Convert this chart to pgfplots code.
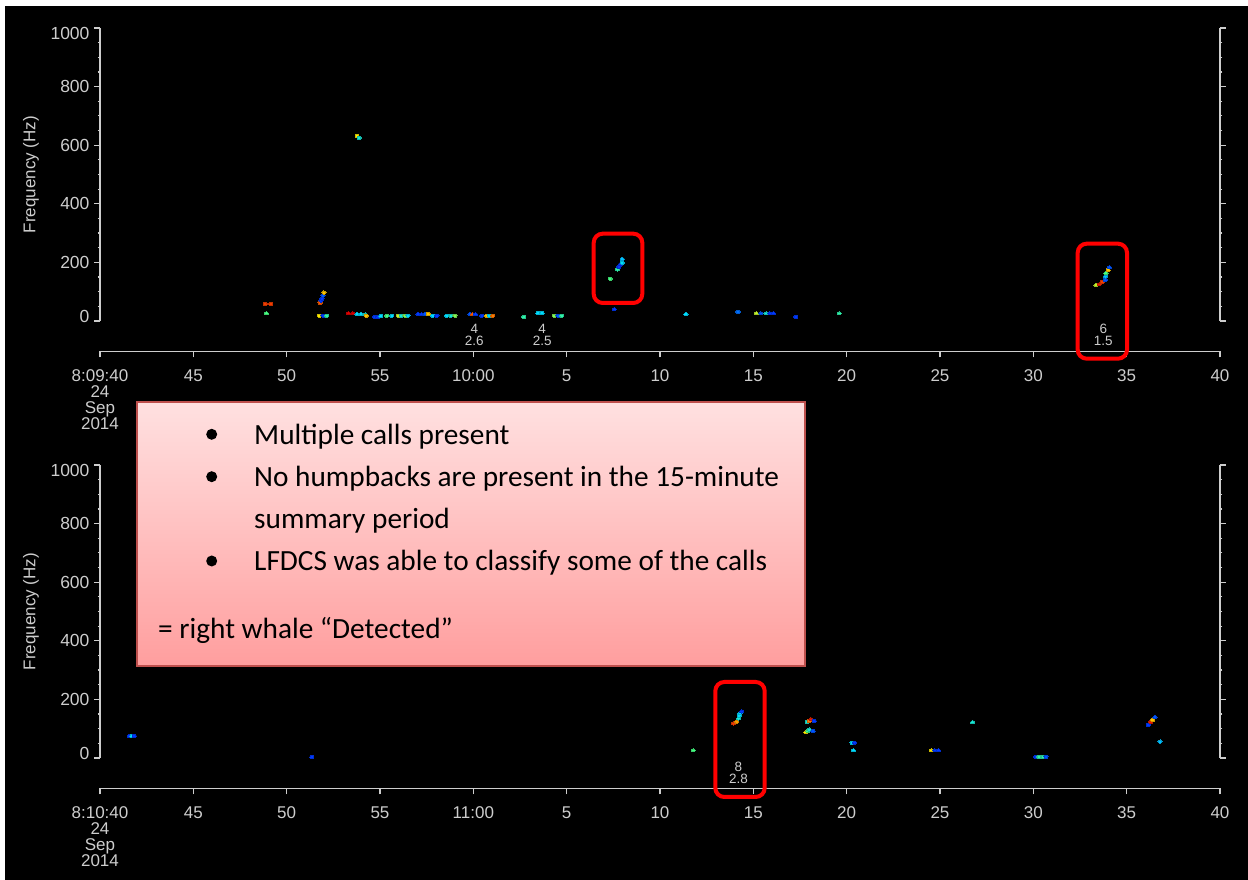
\documentclass[border=0pt]{standalone}
\usepackage{fontspec}
\usepackage{pgfplots}
\usepackage{pgfplotstable}
\pgfplotsset{compat=1.18}
\setmainfont{Liberation Sans}
\newfontfamily\boxfont{Carlito}
\definecolor{axgrey}{RGB}{205,205,205}
\definecolor{boxedge}{RGB}{190,80,77}

% x = seconds after the panel start, y = Hz, c = colour of the pixel on the colour scale
\pgfplotstableread{
x y c
13.78 631 .65
13.89 625 .40
8.855 58 .90
9.145 58 .90
8.91 26 .50
11.79 62 .85
11.84 70 .05
11.89 77 .05
11.95 87 .10
12.00 97 .70
11.75 18 .65
11.95 18 .05
12.14 18 .45
13.31 26 1
13.55 26 1
13.77 23 .35
13.98 23 .35
14.20 22 .40
14.27 18 .70
14.73 14 .05
14.89 14 .05
15.04 17 .35
15.36 18 .50
15.63 18 .35
15.98 18 .60
16.15 18 .40
16.34 18 .55
16.50 18 .35
17.04 23 .05
17.23 23 .05
17.41 23 .10
17.59 24 .70
17.82 18 .35
18.05 18 .05
18.57 18 .35
18.80 18 .40
19.02 18 .55
19.82 23 .10
19.96 23 .85
20.11 23 .05
20.45 18 .05
20.71 18 .70
20.86 18 .35
21.04 18 .80
22.70 14 .45
23.46 27 .35
23.68 27 .35
24.34 18 .55
24.54 18 .10
24.73 18 .45
27.34 144 .50
27.71 176 .45
27.80 185 .05
27.89 194 .05
27.98 199 .35
27.98 211 .30
27.55 40 .05
31.39 23 .35
34.18 31 .15
35.16 26 .60
35.41 26 .10
35.68 26 .40
35.89 26 .05
36.07 26 .05
37.28 14 .05
39.60 26 .45
53.36 122 .60
53.53 125 .95
53.69 133 .90
53.85 140 .10
53.87 152 .30
53.89 163 .50
54.01 174 .70
54.07 183 .10
}\toppanel

\pgfplotstableread{
x y c
1.58 75 .05
1.71 75 .35
1.84 75 .05
11.34 3 .05
31.78 26 .50
33.93 118 .90
34.11 124 .75
34.22 135 .40
34.25 145 .35
34.29 153 .35
34.38 159 .05
37.89 123 .40
38.00 126 .80
38.09 132 .95
38.27 126 .05
37.82 88 .65
37.91 92 .50
38.00 97 .40
38.20 92 .10
40.29 52 .35
40.42 52 .05
40.36 26 .35
44.53 26 .65
44.73 26 .05
44.91 26 .05
46.75 122 .40
50.14 4 .05
50.30 4 .45
50.52 4 .45
50.68 4 .10
56.16 113 .05
56.29 123 .95
56.39 130 .70
56.52 139 .10
56.79 56 .30
}\bottompanel

\pgfplotsset{
  colormap={whale}{rgb255(0cm)=(0,30,255); rgb255(35cm)=(0,220,255); rgb255(50cm)=(70,255,130);
    rgb255(65cm)=(255,235,0); rgb255(80cm)=(255,120,0); rgb255(100cm)=(225,0,0)},
  freqaxis/.style={
    scale only axis, width=1120pt, height=293pt,
    anchor=south west, clip=false,
    xmin=0, xmax=60, ymin=0, ymax=1000,
    axis x line=none, axis y line=box,
    axis line style={color=axgrey, line width=1.3pt},
    ytick={0,200,400,600,800,1000},
    yticklabels={0,200,400,600,800,1000},
    minor y tick num=3,
    ytick pos=both, ytick align=outside,
    major tick length=6pt, minor tick length=2.5pt,
    tick style={color=axgrey, line width=1.2pt},
    yticklabel style={text=axgrey, font=\fontsize{17.5}{17.5}\selectfont, xshift=-1pt,
      yshift={(\ticknum==0)*4.5pt-(\ticknum==5)*5pt}},
    ylabel={Frequency (Hz)},
    every axis y label/.style={at={(axis description cs:-0.0616,0.5)}, rotate=90,
      anchor=center, text=axgrey, font=\fontsize{17}{17}\selectfont},
    colormap name=whale, point meta min=0, point meta max=1,
  },
  timeaxis/.style={
    scale only axis, width=1120pt, height=20pt,
    anchor=south west,
    xmin=0, xmax=60, ymin=0, ymax=1,
    axis x line=bottom, axis y line=none,
    axis line style={-, color=axgrey, line width=1.3pt},
    xtick={0,5,...,60},
    xtick align=outside, major tick length=6pt,
    tick style={color=axgrey, line width=1.2pt},
    xticklabel style={text=axgrey, align=center, yshift=-9pt,
      font=\fontsize{17}{16}\selectfont},
  },
  blobs/.style={scatter, only marks, mark=*, mark size=1.6pt,
    mark options={xscale=1.3, line width=0pt}, scatter src=explicit},
}
\newcommand{\smalllab}[3]{\node[text=axgrey, font=\fontsize{13.5}{13.5}\selectfont] at (axis cs:#1,#2) {#3};}

\begin{document}
\begin{tikzpicture}[x=1pt,y=1pt]
\useasboundingbox (0,0) rectangle (1248,880);
\fill[white] (0,0) rectangle (1248,880);
\fill[black] (5,0) rectangle (1248,874);

% upper panel
\begin{axis}[freqaxis, at={(100pt,559pt)}]
\addplot[blobs] table[x=x, y=y, meta=c] {\toppanel};
\smalllab{20.05}{-27}{4}
\smalllab{20.05}{-67}{2.6}
\smalllab{23.69}{-27}{4}
\smalllab{23.69}{-67}{2.5}
\smalllab{53.75}{-27}{6}
\smalllab{53.75}{-67}{1.5}
\end{axis}
\begin{axis}[timeaxis, at={(100pt,528.5pt)},
  xticklabels={{8:09:40\\24\\Sep\\2014},45,50,55,10:00,5,10,15,20,25,30,35,40}]
\end{axis}

% lower panel
\begin{axis}[freqaxis, at={(100pt,122pt)}]
\addplot[blobs] table[x=x, y=y, meta=c] {\bottompanel};
\smalllab{34.2}{-30}{8}
\smalllab{34.2}{-70}{2.8}
\end{axis}
\begin{axis}[timeaxis, at={(100pt,91.5pt)},
  xticklabels={{8:10:40\\24\\Sep\\2014},45,50,55,11:00,5,10,15,20,25,30,35,40}]
\end{axis}

% call-out box
\shade[top color=red!12!white, bottom color=red!38!white, draw=boxedge, line width=2pt]
  (137,478) rectangle (805,213.5);
\begin{scope}[every node/.style={anchor=base west, inner sep=0pt, text=black,
    font=\boxfont\fontsize{29.3}{29.3}\selectfont}]
\node at (254,435.5) {Multiple calls present};
\node at (254,393.5) {No humpbacks are present in the 15-minute};
\node at (254,351.8) {summary period};
\node at (254,309.5) {LFDCS was able to classify some of the calls};
\node at (158,241.8) {= right whale “Detected”};
\end{scope}
\foreach \by in {445.7,403.3,319}
  \node[circle, fill=black, inner sep=0pt, minimum size=11pt] at (211.7,\by) {};

% red outlines
\begin{scope}[draw=red, line width=4pt, rounded corners=9pt]
\draw (593.7,646.3) rectangle (642.3,577);
\draw (1077.7,636.3) rectangle (1127,521.3);
\draw (715.3,198) rectangle (764.7,83);
\end{scope}
\end{tikzpicture}
\end{document}
